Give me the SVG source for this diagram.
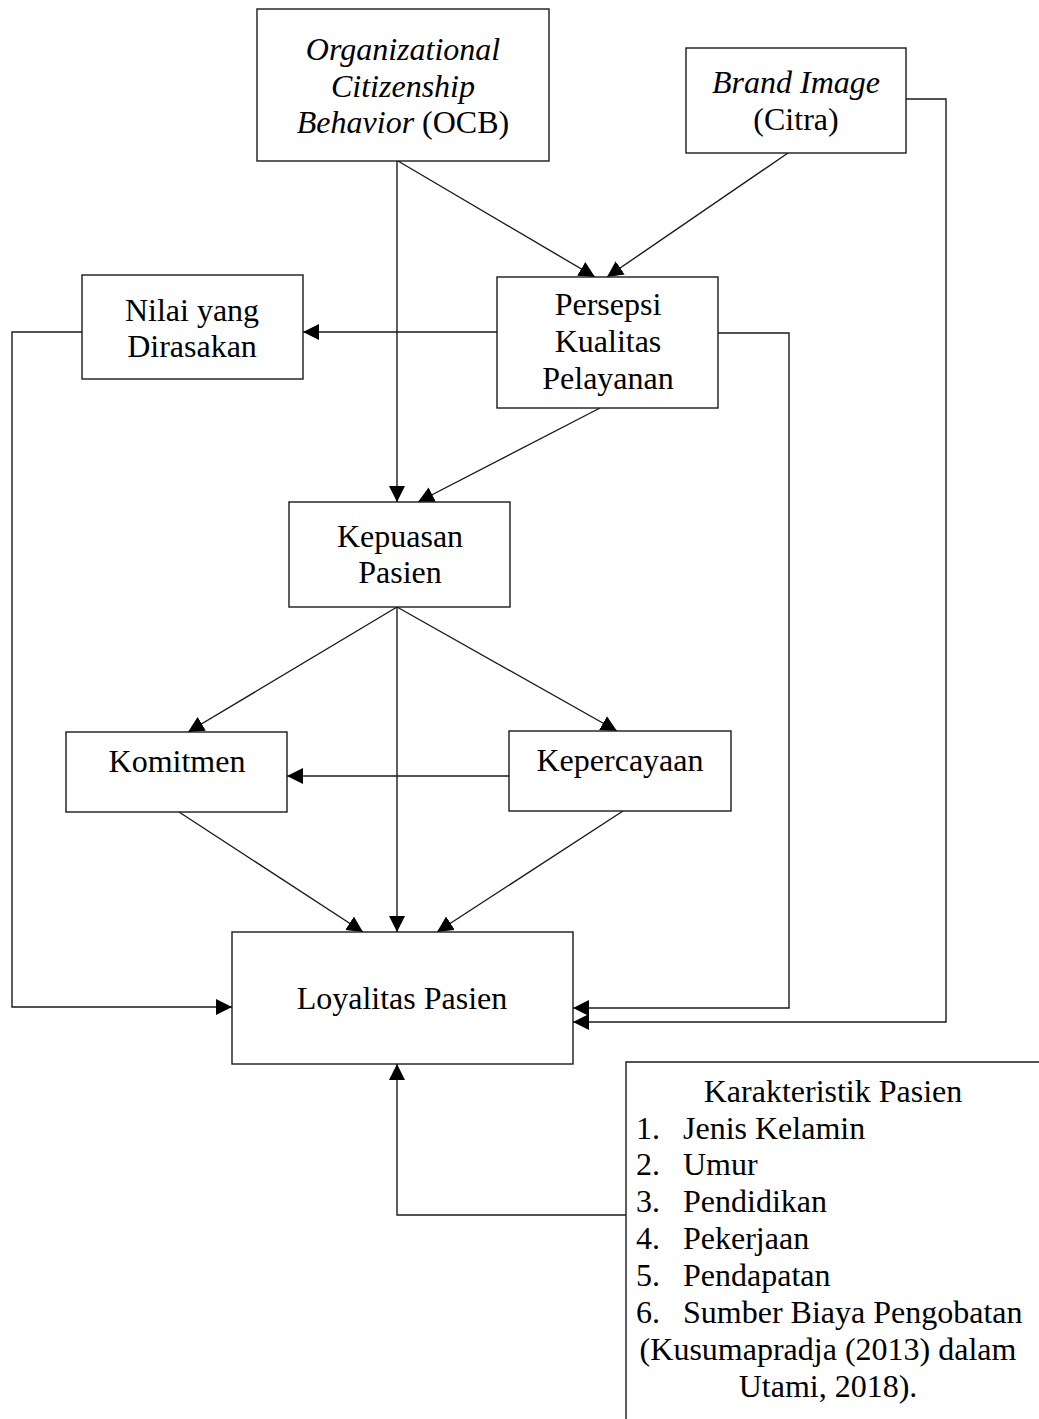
<svg xmlns="http://www.w3.org/2000/svg" width="1039" height="1419" viewBox="0 0 1039 1419">
<style>
.box{fill:#fff;stroke:#1a1a1a;stroke-width:1.4}
.ln{fill:none;stroke:#1a1a1a;stroke-width:1.4}
text{font-family:"Liberation Serif","Times New Roman",serif;font-size:32px;fill:#000}
.c{text-anchor:middle}
.i{font-style:italic}
</style>
<defs>
<marker id="ah" markerUnits="userSpaceOnUse" markerWidth="18" markerHeight="18" refX="16" refY="8" orient="auto">
<path d="M0,0 L16,8 L0,16 z" fill="#000"/>
</marker>
</defs>
<rect width="1039" height="1419" fill="#fff"/>
<g id="connectors">
<line class="ln" x1="398" y1="161" x2="595" y2="277" marker-end="url(#ah)"/>
<line class="ln" x1="788" y1="153" x2="607" y2="277" marker-end="url(#ah)"/>
<line class="ln" x1="397" y1="161" x2="397" y2="502" marker-end="url(#ah)"/>
<line class="ln" x1="497" y1="332" x2="303" y2="332" marker-end="url(#ah)"/>
<line class="ln" x1="600" y1="408" x2="418" y2="502" marker-end="url(#ah)"/>
<line class="ln" x1="397" y1="607" x2="188" y2="732" marker-end="url(#ah)"/>
<line class="ln" x1="397" y1="607" x2="617" y2="731" marker-end="url(#ah)"/>
<line class="ln" x1="397" y1="607" x2="397" y2="932" marker-end="url(#ah)"/>
<line class="ln" x1="509" y1="776" x2="287" y2="776" marker-end="url(#ah)"/>
<line class="ln" x1="179" y1="812" x2="363" y2="932" marker-end="url(#ah)"/>
<line class="ln" x1="623" y1="811" x2="437" y2="932" marker-end="url(#ah)"/>
<path class="ln" d="M82,332 H12 V1007 H232" marker-end="url(#ah)"/>
<path class="ln" d="M718,333 H789 V1008 H573" marker-end="url(#ah)"/>
<path class="ln" d="M906,99 H946 V1022 H573" marker-end="url(#ah)"/>
<path class="ln" d="M626,1215 H397 V1064" marker-end="url(#ah)"/>
</g>
<g id="ocb">
<rect class="box" x="257" y="9" width="292" height="152"/>
<text class="c i" x="403" y="60">Organizational</text>
<text class="c i" x="403" y="97">Citizenship</text>
<text class="c" x="403" y="133"><tspan class="i">Behavior</tspan> (OCB)</text>
</g>
<g id="brand">
<rect class="box" x="686" y="48" width="220" height="105"/>
<text class="c i" x="796" y="93">Brand Image</text>
<text class="c" x="796" y="130">(Citra)</text>
</g>
<g id="persepsi">
<rect class="box" x="497" y="277" width="221" height="131"/>
<text class="c" x="608" y="315">Persepsi</text>
<text class="c" x="608" y="352">Kualitas</text>
<text class="c" x="608" y="389">Pelayanan</text>
</g>
<g id="nilai">
<rect class="box" x="82" y="275" width="221" height="104"/>
<text class="c" x="192" y="321">Nilai yang</text>
<text class="c" x="192" y="357">Dirasakan</text>
</g>
<g id="kepuasan">
<rect class="box" x="289" y="502" width="221" height="105"/>
<text class="c" x="400" y="547">Kepuasan</text>
<text class="c" x="400" y="583">Pasien</text>
</g>
<g id="komitmen">
<rect class="box" x="66" y="732" width="221" height="80"/>
<text class="c" x="177" y="772">Komitmen</text>
</g>
<g id="kepercayaan">
<rect class="box" x="509" y="731" width="222" height="80"/>
<text class="c" x="620" y="771">Kepercayaan</text>
</g>
<g id="loyalitas">
<rect class="box" x="232" y="932" width="341" height="132"/>
<text class="c" x="402" y="1009">Loyalitas Pasien</text>
</g>
<g id="karakteristik">
<path class="ln" d="M626,1419 V1062 H1040"/>
<text class="c" x="833" y="1102">Karakteristik Pasien</text>
<text x="636" y="1139">1.</text><text x="683" y="1139">Jenis Kelamin</text>
<text x="636" y="1175">2.</text><text x="683" y="1175">Umur</text>
<text x="636" y="1212">3.</text><text x="683" y="1212">Pendidikan</text>
<text x="636" y="1249">4.</text><text x="683" y="1249">Pekerjaan</text>
<text x="636" y="1286">5.</text><text x="683" y="1286">Pendapatan</text>
<text x="636" y="1323">6.</text><text x="683" y="1323">Sumber Biaya Pengobatan</text>
<text class="c" x="828" y="1360">(Kusumapradja (2013) dalam</text>
<text class="c" x="828" y="1397">Utami, 2018).</text>
</g>
</svg>
